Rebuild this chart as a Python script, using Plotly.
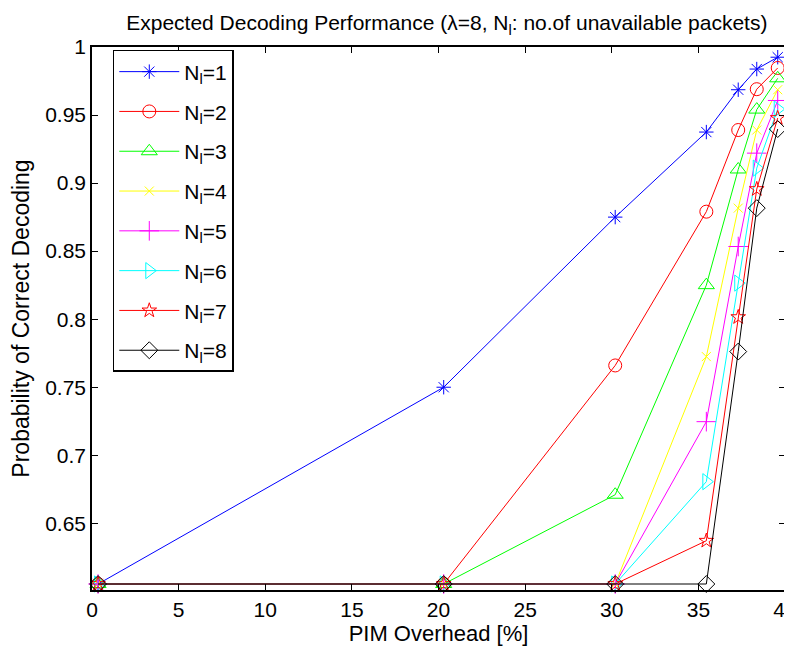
import plotly.graph_objects as go

overhead = [0.35, 20.3, 30.2, 35.46, 37.3, 38.37, 39.58]
floor_val = 0.6054
series_names = ["N<sub>l</sub>=1", "N<sub>l</sub>=2", "N<sub>l</sub>=3", "N<sub>l</sub>=4",
                "N<sub>l</sub>=5", "N<sub>l</sub>=6", "N<sub>l</sub>=7", "N<sub>l</sub>=8"]
nl1 = [floor_val, 0.75, 0.875, 0.9375, 0.9686, 0.9838, 0.9925]
nl2 = [floor_val, floor_val, 0.766, 0.879, 0.939, 0.969, 0.9846]
nl3 = [floor_val, floor_val, 0.671, 0.825, 0.910, 0.954, 0.977]
nl4 = [floor_val, floor_val, floor_val, 0.7725, 0.8816, 0.939, 0.9686]
nl5 = [floor_val, floor_val, floor_val, 0.7247, 0.8534, 0.922, 0.9607]
nl6 = [floor_val, floor_val, floor_val, 0.6806, 0.8265, 0.911, 0.9544]
nl7 = [floor_val, floor_val, floor_val, 0.6372, 0.8015, 0.8956, 0.9478]
nl8 = [floor_val, floor_val, floor_val, floor_val, 0.7762, 0.8816, 0.9397]
series_values = [nl1, nl2, nl3, nl4, nl5, nl6, nl7, nl8]

colors = ["#0000FF", "#FF0000", "#00FF00", "#FFFF00", "#FF00FF", "#00FFFF", "#FF0000", "#000000"]
symbols = ["asterisk-open", "circle-open", "triangle-up-open", "x-thin-open",
           "cross-thin-open", "triangle-right-open", "star-open", "diamond-open"]
sizes = [12, 13, 14, 9, 14, 14, 11, 13]

x_ticks = [0, 5, 10, 15, 20, 25, 30, 35, 40]
y_ticks = [0.65, 0.7, 0.75, 0.8, 0.85, 0.9, 0.95, 1.0]
y_tick_labels = ["0.65", "0.7", "0.75", "0.8", "0.85", "0.9", "0.95", "1"]

FONT = "Liberation Sans, Arial, sans-serif"

fig = go.Figure()
for i, (name, vals) in enumerate(zip(series_names, series_values)):
    fig.add_trace(go.Scatter(
        x=overhead, y=vals, name=name, mode="lines+markers",
        legendgroup=f"g{i}",
        line=dict(color=colors[i], width=1),
        marker=dict(symbol=symbols[i], size=sizes[i], color=colors[i],
                    line=dict(color=colors[i], width=1)),
        cliponaxis=False,
    ))

axis_common = dict(showline=True, linecolor="black", linewidth=1.5, mirror="ticks",
                   ticks="inside", ticklen=6, tickcolor="black", showgrid=False,
                   zeroline=False, automargin=False, ticklabeloverflow="allow",
                   tickfont=dict(family=FONT, size=21, color="black"))

# The page body has an 8px margin, so the figure is sized to fit the 792x651 window.
fig.update_layout(
    width=784, height=643,
    paper_bgcolor="white", plot_bgcolor="white",
    margin=dict(l=84, r=7, t=39, b=61),
    font=dict(family=FONT, color="black", size=20),
    title=dict(text="Expected Decoding Performance (\u03bb=8, N<sub>l</sub>: no.of unavailable packets)",
               x=0.512, xref="paper", xanchor="center", y=0.988, yanchor="top",
               font=dict(family=FONT, size=21, color="black")),
    xaxis=dict(range=[0, 40], tickvals=x_ticks,
               title=dict(text="PIM Overhead [%]", standoff=6, font=dict(family=FONT, size=22)),
               **axis_common),
    yaxis=dict(range=[0.601, 1.0], tickvals=y_ticks, ticktext=y_tick_labels,
               title=dict(text="Probability of Correct Decoding", standoff=10,
                          font=dict(family=FONT, size=23)),
               **axis_common),
    legend=dict(x=0.030, y=0.9945, xanchor="left", yanchor="top",
                bgcolor="white", bordercolor="black", borderwidth=1.5,
                font=dict(family=FONT, size=21), tracegroupgap=9.5, itemwidth=60,
                entrywidth=90, entrywidthmode="pixels"),
    showlegend=True,
)

fig.write_html("out.html")
